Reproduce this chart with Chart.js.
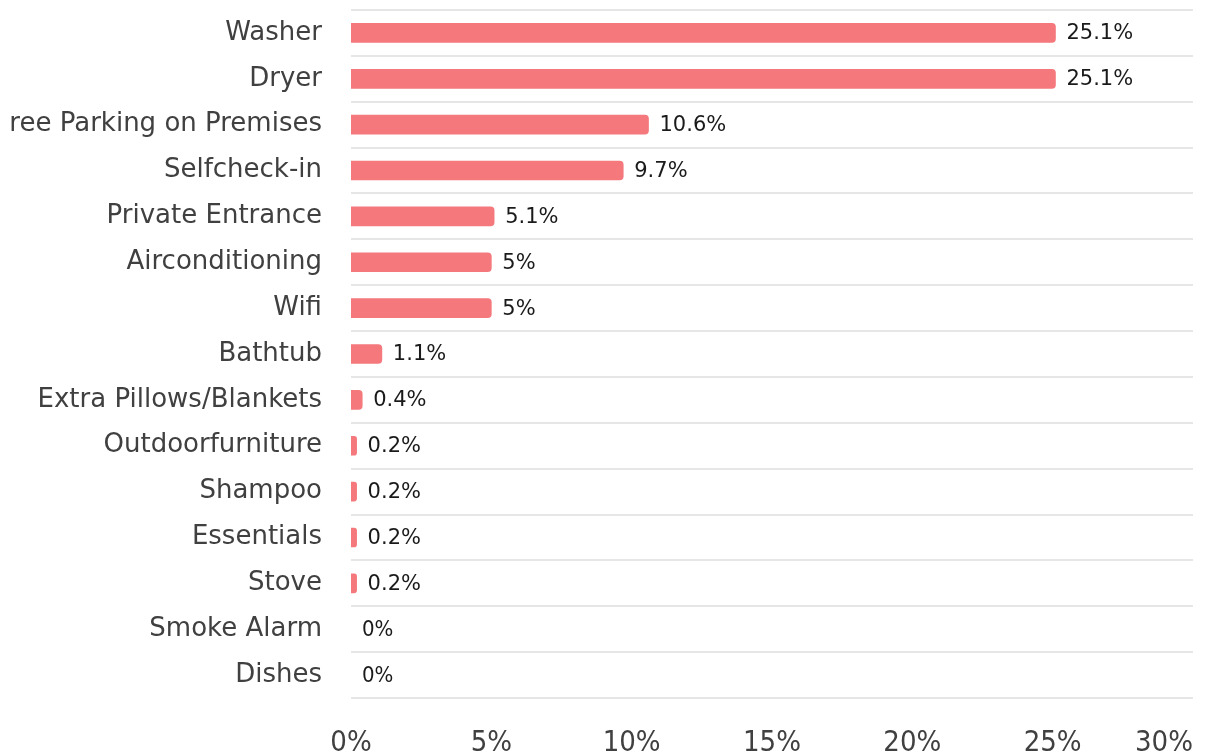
<!DOCTYPE html>
<html>
<head>
<meta charset="utf-8">
<script src="https://cdn.jsdelivr.net/npm/chart.js@4.4.1/dist/chart.umd.min.js"></script>
<style>
  html, body { margin: 0; padding: 0; background: #fff; overflow: hidden; }
  #wrap { position: absolute; left: 10px; top: 0; width: 1195px; height: 756px; }
</style>
</head>
<body>
<div id="wrap"><canvas id="amenities"></canvas></div>
<script>
const categories = [
  'Washer', 'Dryer', 'Free Parking on Premises', 'Selfcheck-in', 'Private Entrance',
  'Airconditioning', 'Wifi', 'Bathtub', 'Extra Pillows/Blankets', 'Outdoorfurniture',
  'Shampoo', 'Essentials', 'Stove', 'Smoke Alarm', 'Dishes'
];
const shares = [25.1, 25.1, 10.6, 9.7, 5.1, 5, 5, 1.1, 0.4, 0.2, 0.2, 0.2, 0.2, 0, 0];
const tickValues = [0, 5, 10, 15, 20, 25, 30];

// value labels to the right of each bar
const valueLabels = {
  id: 'valueLabels',
  afterDatasetsDraw(chart) {
    const ctx = chart.ctx;
    const meta = chart.getDatasetMeta(0);
    ctx.save();
    ctx.textBaseline = 'middle';
    ctx.textAlign = 'left';
    ctx.fillStyle = '#1a1a1a';
    meta.data.forEach((bar, i) => {
      const v = shares[i];
      ctx.font = v === 0 ? '22px "DejaVu Sans Condensed"' : '21px "DejaVu Sans"';
      ctx.fillText(v + '%', bar.x + 11, bar.y + 1);
    });
    ctx.restore();
  }
};

// first x label centred on 0, last one kept inside the canvas
const edgeTicks = {
  id: 'edgeTicks',
  afterLayout(chart) {
    const items = chart.scales.x.getLabelItems();
    if (items.length) items[0].options.textAlign = 'center';
  }
};

function noPadding(scale) {
  scale.paddingTop = 0;
  scale.paddingBottom = 0;
  scale.paddingLeft = 0;
  scale.paddingRight = 0;
}

new Chart(document.getElementById('amenities'), {
  type: 'bar',
  data: {
    labels: categories,
    datasets: [{
      data: shares,
      backgroundColor: (c) => shares[c.dataIndex] === 0 ? 'rgba(0,0,0,0)' : '#F4787C',
      borderRadius: 4,
      barThickness: 19,
    }],
  },
  options: {
    indexAxis: 'y',
    responsive: true,
    maintainAspectRatio: false,
    animation: false,
    layout: { padding: { top: 10, right: 12, left: 0, bottom: 0 } },
    plugins: {
      legend: { display: false },
      tooltip: { enabled: false },
    },
    scales: {
      x: {
        min: 0,
        max: 30,
        afterBuildTicks: (scale) => { scale.ticks = tickValues.map(v => ({ value: v })); },
        afterFit: (scale) => { scale.height = 58; noPadding(scale); },
        grid: { display: false, drawTicks: false },
        border: { display: false },
        ticks: {
          align: 'inner',
          padding: 28,
          color: '#404040',
          font: { family: '"DejaVu Sans Condensed"', size: 29 },
          callback: (v) => v + '%',
        },
      },
      y: {
        afterFit: (scale) => { scale.width = 341; noPadding(scale); },
        grid: { offset: true, color: '#e6e6e6', lineWidth: 2, drawTicks: false },
        border: { display: false },
        ticks: {
          padding: 29,
          color: '#404040',
          font: { family: '"DejaVu Sans"', size: 26 },
        },
      },
    },
  },
  plugins: [valueLabels, edgeTicks],
});
</script>
</body>
</html>
